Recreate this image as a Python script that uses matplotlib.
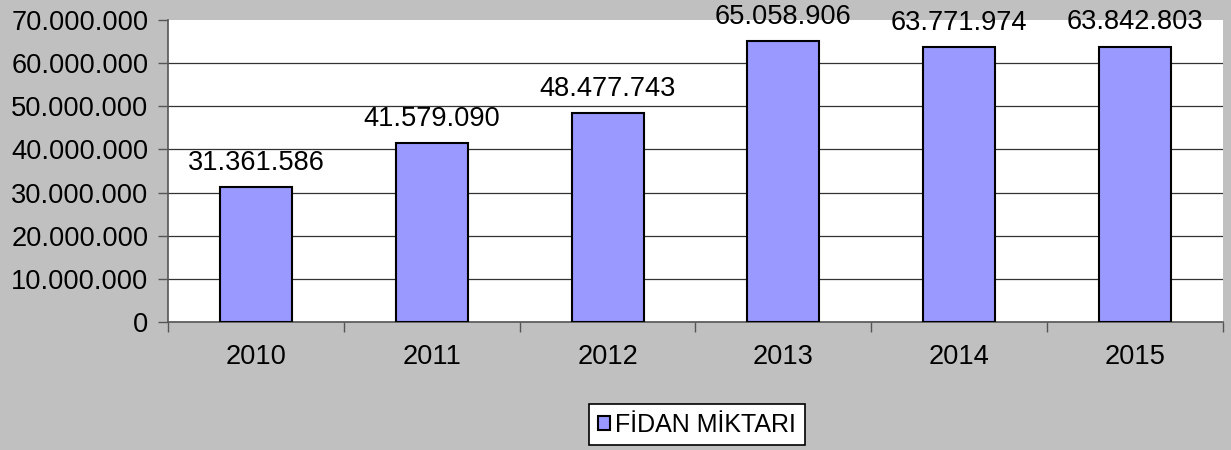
import numpy as np
import matplotlib.pyplot as plt
from matplotlib.ticker import FuncFormatter, FixedLocator

years = ["2010", "2011", "2012", "2013", "2014", "2015"]
fidan = [31361586, 41579090, 48477743, 65058906, 63771974, 63842803]
series_name = "FİDAN MİKTARI"

plt.rcParams['font.family'] = ['Liberation Sans', 'DejaVu Sans']
fs = 19.6

def tr_fmt(v):
    return "{:,}".format(int(round(v))).replace(",", ".")

fig = plt.figure(figsize=(12.31, 4.5), dpi=100, facecolor='#c0c0c0')
ax = fig.add_axes([168/1231, 1 - 322/450, (1223 - 168)/1231, (322 - 20)/450])
ax.set_facecolor('white')

x = np.arange(len(years))
bars = ax.bar(x, fidan, width=0.41, color='#9999ff', edgecolor='black', linewidth=1.5,
              label=series_name, zorder=3)

for xi, v in zip(x, fidan):
    ax.annotate(tr_fmt(v), (xi, v), xytext=(0, 8), textcoords='offset points',
                ha='center', va='bottom', fontsize=fs, color='black', zorder=4)

ax.set_xlim(-0.5, len(years) - 0.5)
ax.set_ylim(0, 70000000)
ax.set_yticks(np.arange(0, 70000001, 10000000))
ax.yaxis.set_major_formatter(FuncFormatter(lambda v, p: tr_fmt(v)))
ax.yaxis.grid(True, color='#333333', linewidth=0.9, zorder=0)
# no gridline on the top edge
ax.get_ygridlines()[-1].set_visible(False)

# ticks at category boundaries, labels at centers
ax.xaxis.set_major_locator(FixedLocator(np.arange(-0.5, len(years), 1.0)))
ax.xaxis.set_minor_locator(FixedLocator(x))
ax.set_xticklabels([], minor=False)
ax.set_xticklabels(years, minor=True)
ax.tick_params(axis='x', which='major', length=7, width=1, color='#555555', direction='out')
ax.tick_params(axis='x', which='minor', length=0, pad=16, labelsize=fs)
ax.tick_params(axis='y', length=7, width=1, color='#555555', direction='out', labelsize=fs, pad=7)

for s in ['top', 'right']:
    ax.spines[s].set_visible(False)
for s in ['left', 'bottom']:
    ax.spines[s].set_color('#555555')
    ax.spines[s].set_linewidth(1.2)

leg = fig.legend(handles=[bars], labels=[series_name], loc='center',
                 bbox_to_anchor=(697/1231, 1 - 424.5/450), fontsize=18,
                 frameon=True, fancybox=False, edgecolor='black', facecolor='white',
                 handlelength=0.5, handleheight=0.5, handletextpad=0.2,
                 borderpad=0.35, framealpha=1)
leg.get_frame().set_linewidth(1.2)

fig.savefig("out.png", dpi=100, facecolor=fig.get_facecolor())
